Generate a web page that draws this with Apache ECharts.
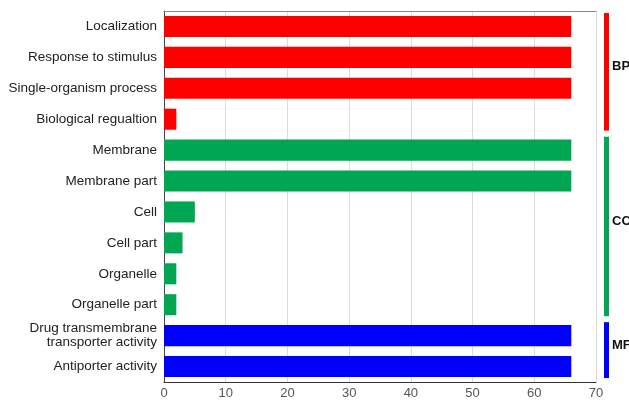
<!DOCTYPE html>
<html>
<head>
<meta charset="utf-8">
<script src="https://cdn.jsdelivr.net/npm/echarts@6/dist/echarts.min.js"></script>
<style>html,body{margin:0;padding:0;background:#fff;}#c{width:629px;height:400px;}</style>
</head>
<body>
<div id="c"></div>
<script>
const categories = ['Localization','Response to stimulus','Single-organism process','Biological regualtion','Membrane','Membrane part','Cell','Cell part','Organelle','Organelle part','Drug transmembrane\ntransporter activity','Antiporter activity'];
const values = [66, 66, 66, 2, 66, 66, 5, 3, 2, 2, 66, 66];
const groupOf = [0,0,0,0,1,1,1,1,1,1,2,2];
const groupNames = ['BP','CC','MF'];
const groupStart = [0, 4, 10];
const groupEnd = [3, 9, 11];
const groupColors = ['#ff0000','#00a651','#0000ff'];
const xTicks = [0,10,20,30,40,50,60,70];

const chart = echarts.init(document.getElementById('c'), null, {renderer:'canvas'});
const barData = values.map((v,i)=>({value:v, itemStyle:{color:groupColors[groupOf[i]]}}));
const bracketData = groupNames.map((n,g)=>[xTicks[xTicks.length-1], groupStart[g], groupEnd[g], g]);

chart.setOption({
  animation:false,
  grid:{left:164, right:33, top:11, bottom:17, containLabel:false},
  xAxis:[{
    type:'value', min:xTicks[0], max:xTicks[xTicks.length-1], interval:10,
    axisLine:{show:true, lineStyle:{color:'#333', width:1}},
    axisTick:{show:false},
    splitLine:{show:true, lineStyle:{color:'#dcdcdc'}},
    axisLabel:{color:'#555', fontFamily:'Liberation Sans, Arial', fontSize:13, margin:5}
  },{
    type:'value', position:'top', min:0, max:70,
    axisLine:{show:true, lineStyle:{color:'#888'}},
    axisTick:{show:false}, axisLabel:{show:false}, splitLine:{show:false}
  }],
  yAxis:{
    type:'category', data:categories, inverse:true,
    axisLine:{show:true, lineStyle:{color:'#444'}},
    axisTick:{show:false},
    axisLabel:{color:'#222', fontFamily:'Liberation Sans, Arial', fontSize:13.5, margin:7, lineHeight:14, padding:[4,0,0,0]}
  },
  series:[{
    type:'bar', data:barData, barCategoryGap:'32%'
  },{
    type:'custom',
    data:bracketData,
    encode:{x:0, y:[1,2]},
    silent:true,
    renderItem:function(params, api){
      const band = api.size([0,1])[1];
      const xr = api.coord([api.value(0), 0])[0];
      const y0 = api.coord([0, api.value(1)])[1] - band/2 + 2;
      const y1 = api.coord([0, api.value(2)])[1] + band/2 - 4;
      const g = api.value(3);
      return {type:'group', children:[
        {type:'rect', shape:{x:xr+8, y:y0, width:5, height:y1-y0}, style:{fill:groupColors[g]}},
        {type:'text', x:xr+16, y:(y0+y1)/2-5, style:{text:groupNames[g], fill:'#111', font:'bold 13px "Liberation Sans", Arial', verticalAlign:'middle', align:'left'}}
      ]};
    }
  }]
});
</script>
</body>
</html>
